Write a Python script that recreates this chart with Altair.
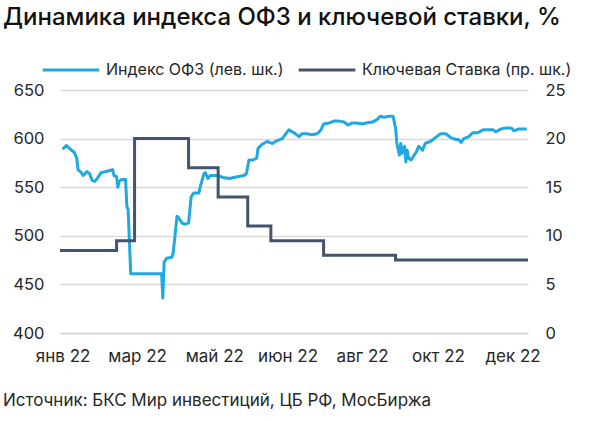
import altair as alt
import pandas as pd

TITLE = "Динамика индекса ОФЗ и ключевой ставки, %"
SOURCE = "Источник: БКС Мир инвестиций, ЦБ РФ, МосБиржа"
SERIES = ["Индекс ОФЗ (лев. шк.)", "Ключевая Ставка (пр. шк.)"]
COLORS = ["#1FA9E1", "#44536E"]
MONTHS = ["янв", "фев", "мар", "апр", "май", "июн", "июл", "авг", "сен", "окт", "ноя", "дек"]
TICK_DATES = [(2022, 1, 3), (2022, 3, 2), (2022, 5, 1), (2022, 6, 27),
              (2022, 8, 24), (2022, 10, 22), (2022, 12, 19)]
LEFT_TICKS = [400, 450, 500, 550, 600, 650]
RIGHT_TICKS = [0, 5, 10, 15, 20, 25]

OFZ_DATES = [
    "2022-01-03", "2022-01-06", "2022-01-09", "2022-01-12", "2022-01-14", "2022-01-15",
    "2022-01-17", "2022-01-19", "2022-01-22", "2022-01-24", "2022-01-26", "2022-01-28",
    "2022-01-30", "2022-02-02", "2022-02-08", "2022-02-11", "2022-02-12", "2022-02-14",
    "2022-02-15", "2022-02-16", "2022-02-18", "2022-02-21", "2022-02-22", "2022-02-23",
    "2022-02-25", "2022-03-21", "2022-03-22", "2022-03-23", "2022-03-25", "2022-03-29",
    "2022-03-30", "2022-04-02", "2022-04-03", "2022-04-06", "2022-04-08", "2022-04-11",
    "2022-04-13", "2022-04-15", "2022-04-19", "2022-04-20", "2022-04-23", "2022-04-24",
    "2022-04-26", "2022-04-28", "2022-05-03", "2022-05-08", "2022-05-13", "2022-05-16",
    "2022-05-20", "2022-05-24", "2022-05-26", "2022-05-28", "2022-05-31", "2022-06-03",
    "2022-06-04", "2022-06-07", "2022-06-11", "2022-06-15", "2022-06-19", "2022-06-23",
    "2022-06-25", "2022-06-28", "2022-07-02", "2022-07-06", "2022-07-08", "2022-07-12",
    "2022-07-16", "2022-07-20", "2022-07-23", "2022-07-25", "2022-07-29", "2022-08-02",
    "2022-08-06", "2022-08-10", "2022-08-13", "2022-08-16", "2022-08-20", "2022-08-24",
    "2022-08-27", "2022-09-01", "2022-09-05", "2022-09-07", "2022-09-10", "2022-09-14",
    "2022-09-17", "2022-09-19", "2022-09-20", "2022-09-22", "2022-09-23", "2022-09-24",
    "2022-09-26", "2022-09-27", "2022-09-28", "2022-09-29", "2022-10-01", "2022-10-05",
    "2022-10-07", "2022-10-10", "2022-10-12", "2022-10-16", "2022-10-20", "2022-10-24",
    "2022-10-28", "2022-11-01", "2022-11-05", "2022-11-07", "2022-11-09", "2022-11-11",
    "2022-11-15", "2022-11-18", "2022-11-22", "2022-11-26", "2022-11-30", "2022-12-04",
    "2022-12-06", "2022-12-10", "2022-12-14", "2022-12-18", "2022-12-20", "2022-12-24",
    "2022-12-30",
]
OFZ_VALUES = [
    589, 593, 589, 586, 580, 568,
    566, 562, 566, 564, 557, 556,
    559, 565, 567, 568, 562, 561,
    550, 556, 558, 558, 530, 527,
    461, 461, 436, 473, 477, 478,
    482, 520, 519, 513, 512, 513,
    540, 544, 544, 550, 564, 565,
    559, 562, 562, 560, 559, 560,
    561, 562, 564, 578, 578, 580,
    590, 594, 597, 595, 598, 600,
    604, 609, 606, 602, 605, 605,
    604, 605, 609, 615, 616, 618,
    618, 617, 614, 616, 616, 615,
    616, 617, 620, 623, 622, 623,
    623, 611, 595, 583, 595, 585,
    592, 576, 588, 580, 578, 586,
    592, 588, 595, 597, 601, 605,
    605, 601, 599, 599, 596, 600,
    602, 606, 606, 609, 609, 609,
    607, 610, 611, 611, 608, 610,
    610,
]

RATE_DATES = ["2022-01-01", "2022-02-14", "2022-02-28", "2022-04-11", "2022-05-04",
              "2022-05-27", "2022-06-14", "2022-07-25", "2022-09-19", "2022-12-31"]
RATE_VALUES = [8.5, 9.5, 20, 17, 14, 11, 9.5, 8, 7.5, 7.5]

FONT = "Inter"
TEXT_COLOR = "#262626"
GRID_COLOR = "#D9D9D9"

ofz = pd.DataFrame({"date": OFZ_DATES, "value": OFZ_VALUES})
rate = pd.DataFrame({"date": RATE_DATES, "value": RATE_VALUES})

x_scale = alt.Scale(
    type="utc",
    domain=[alt.DateTime(year=2022, month=1, date=1, utc=True),
            alt.DateTime(year=2022, month=12, date=31, utc=True)],
)
month_list = "[" + ",".join("'" + m + "'" for m in MONTHS) + "]"
x_axis = alt.Axis(
    title=None,
    values=[alt.DateTime(year=y, month=m, date=d, utc=True) for (y, m, d) in TICK_DATES],
    labelExpr=month_list + "[utcmonth(datum.value)] + ' 22'",
    grid=False, ticks=False, domain=True, domainColor=GRID_COLOR, domainWidth=2,
    labelPadding=15, labelFontSize=17, labelColor=TEXT_COLOR, labelFont=FONT,
)

color_scale = alt.Scale(domain=SERIES, range=COLORS)
legend = alt.Legend(
    title=None, orient="none", direction="horizontal", legendX=-19, legendY=-50,
    symbolType="stroke", symbolSize=3200, symbolStrokeWidth=3, labelFontSize=16,
    labelFont=FONT, labelColor=TEXT_COLOR, labelOffset=5, columnPadding=8,
    labelLimit=400,
)

ofz_line = alt.Chart(ofz).mark_line(strokeWidth=3, strokeJoin="round").encode(
    x=alt.X("date:T", scale=x_scale, axis=x_axis),
    y=alt.Y("value:Q", scale=alt.Scale(domain=[400, 650], nice=False, zero=False),
            axis=alt.Axis(title=None, orient="left", values=LEFT_TICKS, grid=True,
                          gridColor=GRID_COLOR, gridWidth=1.5, domain=False, ticks=False,
                          labelPadding=16, labelFontSize=16.5, labelColor=TEXT_COLOR,
                          labelFont=FONT)),
    color=alt.Color("s:N", scale=color_scale, legend=legend),
).transform_calculate(s="'" + SERIES[0] + "'")

rate_line = alt.Chart(rate).mark_line(strokeWidth=3, interpolate="step-after").encode(
    x=alt.X("date:T", scale=x_scale, axis=x_axis),
    y=alt.Y("value:Q", scale=alt.Scale(domain=[0, 25], nice=False),
            axis=alt.Axis(title=None, orient="right", values=RIGHT_TICKS, grid=False,
                          domain=False, ticks=False, labelPadding=17, labelFontSize=16.5,
                          labelColor=TEXT_COLOR, labelFont=FONT)),
    color=alt.Color("s:N", scale=color_scale, legend=legend),
).transform_calculate(s="'" + SERIES[1] + "'")

title_text = alt.Chart(pd.DataFrame({"t": [TITLE]})).mark_text(
    align="left", baseline="alphabetic", fontSize=24, fontWeight=500,
    font=FONT, color="#111111",
).encode(x=alt.value(-57), y=alt.value(-65), text="t:N")

source_text = alt.Chart(pd.DataFrame({"t": [SOURCE]})).mark_text(
    align="left", baseline="alphabetic", fontSize=17, font=FONT, color=TEXT_COLOR,
).encode(x=alt.value(-57), y=alt.value(316), text="t:N")

chart = alt.layer(ofz_line, rate_line, title_text, source_text).resolve_scale(
    y="independent"
).properties(
    width=468, height=243,
    autosize=alt.AutoSizeParams(type="none"),
    padding={"left": 60, "top": 90, "right": 72, "bottom": 88},
).configure_view(strokeWidth=0, stroke="transparent")

chart.save("out.html", embed_options={"renderer": "svg", "actions": False})
